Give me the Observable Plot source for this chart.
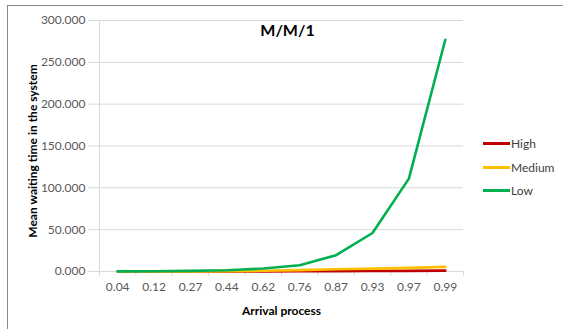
<!DOCTYPE html>
<html>
<head>
<meta charset="utf-8">
<script src="https://cdn.jsdelivr.net/npm/d3@7"></script>
<script src="https://cdn.jsdelivr.net/npm/@observablehq/plot@0.6"></script>
<style>
  html, body { margin: 0; padding: 0; background: #fff; overflow: hidden; }
  #wrap { position: relative; width: 563px; height: 329px; font-family: Lato, "Open Sans", sans-serif; }
  #frame { position: absolute; left: 7px; top: 5px; width: 600px; height: 400px; border: 1px solid #8a8a8a; box-sizing: border-box; pointer-events: none; }
  #legend { position: absolute; left: 483px; top: 132px; font-size: 12px; color: #404040; }
  .item { display: flex; align-items: center; height: 23.5px; }
  .sw { width: 27px; height: 3px; margin-right: 1px; }
  #chart { position: absolute; left: 0; top: 0; }
</style>
</head>
<body>
<div id="wrap">
  <div id="chart"></div>
  <div id="frame"></div>
  <div id="legend"></div>
</div>
<script>
const categories = ["0.04", "0.12", "0.27", "0.44", "0.62", "0.76", "0.87", "0.93", "0.97", "0.99"];
const seriesNames = ["High", "Medium", "Low"];
const seriesColors = ["#c00000", "#ffc000", "#00b050"];
const high = [0.01, 0.02, 0.04, 0.08, 0.15, 0.25, 0.4, 0.55, 0.75, 1.0];
const medium = [0.03, 0.08, 0.18, 0.4, 0.9, 1.6, 2.7, 3.4, 4.3, 5.5];
const low = [0.1, 0.3, 0.7, 1.5, 3.5, 7.5, 19.5, 46, 111, 277];
const yTicks = [0, 50, 100, 150, 200, 250, 300];

const seriesValues = [high, medium, low];
const data = [];
seriesNames.forEach((name, s) => {
  seriesValues[s].forEach((v, i) => data.push({series: name, i, v}));
});
const idx = categories.map((_, i) => i);
const bounds = [...idx.map(i => i - 0.5), categories.length - 0.5];

const chart = Plot.plot({
  width: 563,
  height: 329,
  marginLeft: 99,
  marginRight: 100,
  marginTop: 20,
  marginBottom: 58,
  style: { fontFamily: "Lato, 'Open Sans', sans-serif", fontSize: "12px", background: "transparent", overflow: "visible" },
  x: { type: "linear", domain: [-0.5, categories.length - 0.5] },
  y: { domain: [0, 300] },
  color: { domain: seriesNames, range: seriesColors },
  marks: [
    Plot.gridY(yTicks, { stroke: "#d9d9d9", strokeOpacity: 1 }),
    Plot.axisY(yTicks, { tickFormat: d3.format(".3f"), tickSize: 11, stroke: "#d9d9d9", fill: "#595959", tickPadding: 3, label: null, fontSize: 12 }),
    Plot.ruleX([-0.5], { stroke: "#d9d9d9" }),
    Plot.ruleY([0], { stroke: "#d9d9d9" }),
    Plot.axisX(bounds, { tickSize: 5, tickFormat: () => "", stroke: "#d9d9d9", label: null }),
    Plot.axisX(idx, { tickSize: 0, tickPadding: 11, tickFormat: i => categories[i], fill: "#595959", label: null, fontSize: 12 }),
    Plot.line(data, { x: "i", y: "v", z: "series", stroke: "series", strokeWidth: 2.6, strokeLinejoin: "round" }),
    Plot.text(["M/M/1"], { frameAnchor: "top", dx: 6, dy: 4, fontWeight: "bold", fontSize: 16, fill: "#000" }),
    Plot.text(["Arrival process"], { frameAnchor: "bottom", dy: 43, fontWeight: "bold", fontSize: 12, fill: "#000" }),
    Plot.text(["Mean waiting time in the system"], { frameAnchor: "left", textAnchor: "middle", dx: -66, dy: 5, rotate: -90, fontWeight: "bold", fontSize: 12, fill: "#000" })
  ]
});
document.getElementById("chart").appendChild(chart);

const legend = document.getElementById("legend");
seriesNames.forEach((name, s) => {
  const row = document.createElement("div");
  row.className = "item";
  const sw = document.createElement("div");
  sw.className = "sw";
  sw.style.background = seriesColors[s];
  const t = document.createElement("span");
  t.textContent = name;
  row.appendChild(sw);
  row.appendChild(t);
  legend.appendChild(row);
});
</script>
</body>
</html>
